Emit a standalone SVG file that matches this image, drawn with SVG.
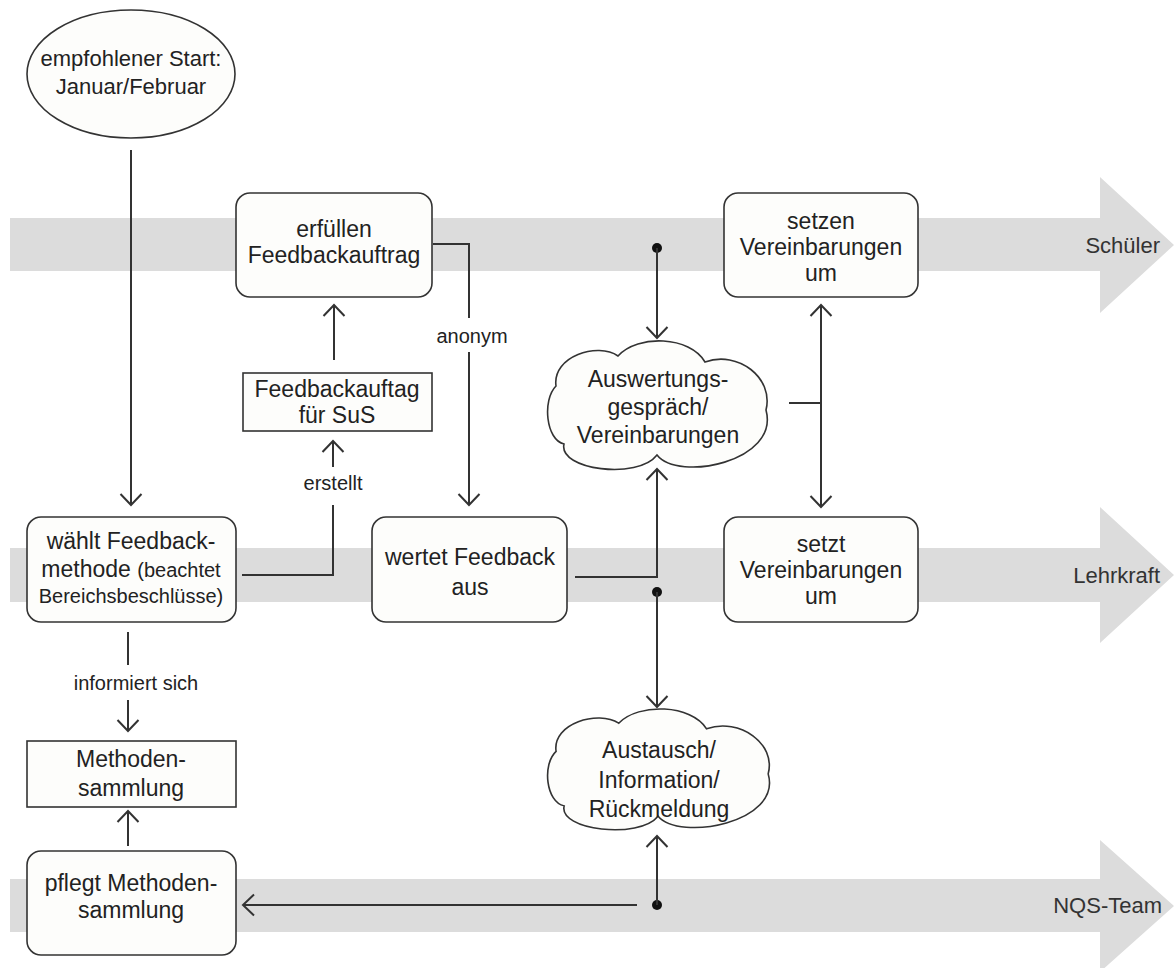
<svg xmlns="http://www.w3.org/2000/svg" xmlns:xlink="http://www.w3.org/1999/xlink" width="1174" height="968" viewBox="0 0 1174 968">
<style>
.band{fill:#dcdcdc;stroke:none}
.box{fill:#fdfdfb;stroke:#333;stroke-width:1.6}
.t{font-family:"Liberation Sans",Arial,sans-serif;font-size:23px;fill:#222;text-anchor:middle}
.s{font-size:20px}
.lbl{font-family:"Liberation Sans",Arial,sans-serif;font-size:20px;fill:#222;text-anchor:middle}
.lane{font-family:"Liberation Sans",Arial,sans-serif;font-size:22px;fill:#333;text-anchor:end}
.c{fill:none;stroke:#333;stroke-width:2}
.a{fill:none;stroke:#333;stroke-width:2;marker-end:url(#ah)}
.dot{fill:#111}
</style>
<defs>
<marker id="ah" markerUnits="userSpaceOnUse" markerWidth="26" markerHeight="26" viewBox="-13 -13 26 26" refX="0" refY="0" orient="auto-start-reverse" overflow="visible">
<path d="M-11,-10.5 L0,0 L-11,10.5" fill="none" stroke="#333" stroke-width="2"/>
</marker>
<path id="cloud" d="M16,102 C-2,98 -6,58 8,44 C4,14 50,0 70,14 C90,-8 142,-6 157,20 C190,8 226,36 218,68 C232,120 130,140 109,113 C90,138 10,128 16,102 Z"/>
</defs>

<g id="lanes">
<polygon class="band" points="10,218 1100,218 1100,177 1174,245 1100,313 1100,271 10,271"/>
<polygon class="band" points="10,548 1100,548 1100,507 1174,575 1100,643 1100,602 10,602"/>
<polygon class="band" points="10,879 1100,879 1100,840 1174,906 1100,972 1100,932 10,932"/>
<text class="lane" x="1160" y="253">Schüler</text>
<text class="lane" x="1160" y="583">Lehrkraft</text>
<text class="lane" x="1162" y="913">NQS-Team</text>
</g>

<g id="connectors">
<line class="a" x1="131" y1="150" x2="131" y2="505"/>
<polyline class="c" points="242,575 333,575 333,505"/>
<text class="lbl" x="333" y="490">erstellt</text>
<line class="a" x1="333" y1="467" x2="333" y2="441"/>
<line class="a" x1="334" y1="360" x2="334" y2="305"/>
<polyline class="c" points="433,244 469,244 469,318"/>
<text class="lbl" x="472" y="343">anonym</text>
<line class="a" x1="469" y1="352" x2="469" y2="505"/>
<circle class="dot" cx="657" cy="248" r="5"/>
<line class="a" x1="657" y1="248" x2="657" y2="338"/>
<polyline class="a" points="575,577 657,577 657,469"/>
<circle class="dot" cx="657" cy="592" r="5"/>
<line class="a" x1="657" y1="592" x2="657" y2="707"/>
<circle class="dot" cx="657" cy="905" r="5"/>
<line class="a" x1="657" y1="905" x2="657" y2="836"/>
<line class="a" x1="637" y1="905" x2="243" y2="905"/>
<line class="c" x1="789" y1="403" x2="821" y2="403"/>
<line class="a" x1="821" y1="305" x2="821" y2="507" style="marker-start:url(#ah)"/>
<line class="c" x1="128" y1="632" x2="128" y2="665"/>
<text class="lbl" x="136" y="690">informiert sich</text>
<line class="a" x1="128" y1="700" x2="128" y2="731"/>
<line class="a" x1="128" y1="846" x2="128" y2="811"/>
</g>

<g id="start">
<ellipse class="box" cx="131" cy="74" rx="104" ry="64"/>
<text class="t" x="131" y="66" style="font-size:22px">empfohlener Start:</text>
<text class="t" x="131" y="94" style="font-size:22px">Januar/Februar</text>
</g>

<g id="erfuellen">
<rect class="box" x="236" y="193" width="196" height="104" rx="14"/>
<text class="t" x="334" y="237">erfüllen</text>
<text class="t" x="334" y="263">Feedbackauftrag</text>
</g>

<g id="auftrag">
<rect class="box" x="243" y="373" width="189" height="58"/>
<text class="t" x="337" y="397">Feedbackauftag</text>
<text class="t" x="337" y="423">für SuS</text>
</g>

<g id="waehlt">
<rect class="box" x="27" y="517" width="209" height="105" rx="14"/>
<text class="t" x="131" y="549">wählt Feedback-</text>
<text class="t" x="131" y="577">methode <tspan class="s">(beachtet</tspan></text>
<text class="t s" x="131" y="603">Bereichsbeschlüsse)</text>
</g>

<g id="methoden">
<rect class="box" x="27" y="741" width="209" height="66"/>
<text class="t" x="131" y="767">Methoden-</text>
<text class="t" x="131" y="796">sammlung</text>
</g>

<g id="pflegt">
<rect class="box" x="27" y="851" width="209" height="104" rx="14"/>
<text class="t" x="131" y="891">pflegt Methoden-</text>
<text class="t" x="131" y="918">sammlung</text>
</g>

<g id="wertet">
<rect class="box" x="372" y="517" width="195" height="105" rx="14"/>
<text class="t" x="470" y="565">wertet Feedback</text>
<text class="t" x="470" y="595">aus</text>
</g>

<g id="setzen">
<rect class="box" x="724" y="193" width="194" height="104" rx="14"/>
<text class="t" x="821" y="229">setzen</text>
<text class="t" x="821" y="255">Vereinbarungen</text>
<text class="t" x="821" y="281">um</text>
</g>

<g id="setzt">
<rect class="box" x="724" y="517" width="194" height="105" rx="14"/>
<text class="t" x="821" y="552">setzt</text>
<text class="t" x="821" y="578">Vereinbarungen</text>
<text class="t" x="821" y="604">um</text>
</g>

<g id="auswertung">
<use xlink:href="#cloud" href="#cloud" class="box" transform="translate(548,342)"/>
<text class="t" x="658" y="387">Auswertungs-</text>
<text class="t" x="658" y="415">gespräch/</text>
<text class="t" x="658" y="443">Vereinbarungen</text>
</g>

<g id="austausch">
<use xlink:href="#cloud" href="#cloud" class="box" transform="translate(548,710) scale(1.01,0.94)"/>
<text class="t" x="659" y="758">Austausch/</text>
<text class="t" x="659" y="788">Information/</text>
<text class="t" x="659" y="817">Rückmeldung</text>
</g>
</svg>
